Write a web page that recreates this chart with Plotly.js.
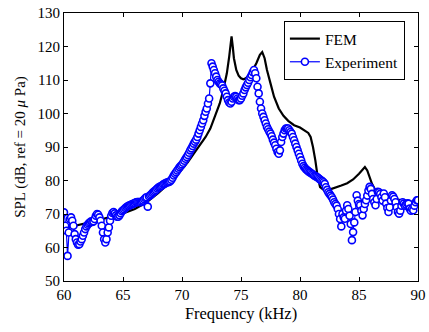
<!DOCTYPE html>
<html>
<head>
<meta charset="utf-8">
<script src="https://cdn.plot.ly/plotly-3.0.1.min.js"></script>
<style>html,body{margin:0;padding:0;background:#fff;}#chart{width:429px;height:332px;}</style>
</head>
<body>
<div id="chart"></div>
<script>
// FEM simulation (frequency in kHz, SPL in dB)
var femFreq = [60, 61, 62, 63, 64, 65, 66, 67, 68, 68.5, 69, 69.5, 70, 70.5, 71, 71.5, 72, 72.4, 72.8, 73.2, 73.5, 73.8, 74.0, 74.1, 74.2, 74.3, 74.4, 74.6, 74.8, 75.0, 75.2, 75.4, 75.7, 76.0, 76.3, 76.6, 76.8, 77.0, 77.2, 77.5, 77.8, 78.2, 78.6, 79.0, 79.5, 80.0, 80.4, 80.7, 80.9, 81.1, 81.3, 81.5, 81.7, 82.0, 82.5, 83.0, 83.5, 84.0, 84.5, 85.0, 85.3, 85.5, 85.7, 85.9, 86.1, 86.4, 87, 88, 89, 90];
var femSPL = [65.7, 66.5, 67.3, 68.2, 69.2, 70.2, 71.5, 73.5, 76.3, 77.8, 79.5, 81.2, 83.2, 85.5, 88.0, 90.5, 93.0, 95.5, 99.0, 103.0, 107.0, 112.0, 117.0, 120.0, 123.0, 120.0, 116.5, 113.0, 111.3, 110.5, 110.2, 110.5, 111.5, 113.0, 115.0, 117.5, 118.3, 116.5, 113.0, 109.0, 105.0, 101.5, 99.3, 97.8, 96.5, 95.8, 95.0, 94.2, 93.0, 90.0, 86.0, 81.0, 78.0, 77.2, 77.3, 77.8, 78.5, 79.2, 80.3, 82.0, 83.3, 84.0, 83.0, 81.0, 79.0, 77.0, 75.5, 74.5, 73.8, 73.5];

// Experiment: measured every 0.1 kHz from 60 kHz to 90 kHz
var expStart = 60;
var expStep = 0.1;
var expSPL = [
  70.5, 66.5, 65.0, 57.5, 64.5, 68.5, 69.0, 68.0, 66.5, 64.0,
  62.5, 61.5, 60.8, 61.0, 61.8, 62.5, 63.5, 64.5, 65.5, 66.3,
  66.8, 67.2, 67.5, 67.8, 67.6, 67.8, 68.5, 69.5, 70.0, 69.8,
  69.0, 68.0, 66.5, 64.5, 62.5, 61.5, 62.5, 64.5, 66.0, 68.0,
  69.5, 70.3, 70.6, 70.2, 69.6, 69.2, 69.2, 69.6, 70.2, 70.8,
  71.1, 71.4, 71.8, 72.1, 72.3, 72.5, 72.6, 72.8, 73.0, 73.1,
  73.3, 73.5, 73.6, 73.6, 73.6, 73.5, 73.7, 74.0, 74.4, 74.8,
  75.0, 72.2, 75.3, 75.6, 75.9, 76.3, 76.6, 76.9, 77.2, 77.6,
  77.9, 78.1, 78.3, 78.5, 78.8, 79.0, 79.2, 79.4, 79.5, 79.6,
  79.8, 80.2, 80.8, 81.5, 82.0, 82.5, 83.0, 83.5, 84.0, 84.4,
  84.8, 85.3, 85.9, 86.5, 87.0, 87.6, 88.3, 89.0, 89.6, 90.3,
  91.0, 91.6, 92.2, 93.0, 94.0, 95.0, 96.0, 97.0, 98.0, 99.3,
  100.5, 101.5, 103.0, 104.5, 109.0, 115.0, 114.0, 113.0, 112.0, 111.0,
  110.0, 109.5, 109.0, 108.7, 108.4, 107.5, 106.8, 106.0, 105.0, 104.0,
  103.3, 103.0, 103.5, 104.5, 105.0, 105.2, 105.0, 104.5, 104.0, 104.0,
  104.5, 105.3, 106.0, 107.0, 107.8, 108.5, 109.2, 110.0, 110.8, 111.5,
  112.3, 113.0, 112.0, 110.5, 108.0, 106.0, 103.5, 101.5, 100.0, 99.0,
  98.0, 97.0, 96.0, 95.3, 94.6, 94.0, 93.2, 92.2, 91.3, 90.5,
  89.5, 88.5, 88.0, 89.0, 91.5, 93.0, 94.0, 95.0, 95.5, 95.5,
  95.5, 95.0, 94.5, 94.0, 93.0, 92.0, 91.0, 90.0, 89.0, 88.0,
  87.0, 86.0, 85.0, 84.3, 83.8, 83.4, 83.1, 82.8, 82.5, 82.3,
  82.0, 81.8, 81.5, 81.3, 81.1, 80.9, 80.6, 80.3, 80.0, 79.8,
  79.5, 79.0, 78.0, 77.2, 76.5, 76.0, 75.5, 75.0, 74.3, 73.5,
  73.0, 72.5, 71.5, 70.0, 68.5, 66.3, 70.0, 69.0, 68.6, 71.0,
  72.6, 71.5, 69.5, 67.0, 62.2, 64.6, 67.5, 70.6, 75.6, 74.0,
  73.0, 72.6, 71.0, 69.6, 71.5, 73.0, 74.1, 75.5, 77.0, 78.1,
  77.5, 76.0, 74.5, 73.5, 72.6, 74.5, 76.6, 76.5, 76.0, 75.0,
  74.0, 76.1, 75.0, 73.1, 71.8, 70.6, 72.0, 74.0, 75.6, 75.2,
  74.5, 73.5, 72.0, 70.6, 70.1, 71.0, 72.5, 73.5, 73.1, 72.5,
  72.8, 73.2, 73.1, 71.6, 71.0, 71.5, 71.1, 72.5, 73.5, 74.1,
  74.1
];

var xTicks = [60, 65, 70, 75, 80, 85, 90];
var yTicks = [50, 60, 70, 80, 90, 100, 110, 120, 130];

var fontFam = '"Liberation Serif", "Times New Roman", serif';

var traces = [
  {
    x: femFreq, y: femSPL, type: 'scatter', mode: 'lines', name: 'FEM',
    line: {color: '#000000', width: 2.2}
  },
  {
    x0: expStart, dx: expStep, y: expSPL, type: 'scatter', mode: 'lines+markers', name: 'Experiment',
    line: {color: '#0000ff', width: 1.2},
    marker: {symbol: 'circle', size: 7, color: '#ffffff', line: {color: '#0000ff', width: 1.6}}
  }
];

var axisCommon = {
  showgrid: false, zeroline: false, showline: true, linecolor: '#000', linewidth: 1,
  mirror: 'ticks', ticks: 'inside', ticklen: 4, tickcolor: '#000', tickwidth: 1,
  tickfont: {family: fontFam, size: 15, color: '#000'}
};

var layout = {
  width: 429, height: 332,
  margin: {l: 64, r: 11, t: 13, b: 51},
  paper_bgcolor: '#fff', plot_bgcolor: '#fff',
  showlegend: true,
  legend: {
    x: 0.963, y: 0.97, xanchor: 'right', yanchor: 'top',
    bgcolor: '#fff', bordercolor: '#000', borderwidth: 1,
    font: {family: fontFam, size: 15.5, color: '#000'},
    tracegroupgap: 0, itemwidth: 30
  },
  xaxis: Object.assign({}, axisCommon, {
    range: [60, 90], tickvals: xTicks, ticktext: xTicks.map(String),
    title: {text: 'Frequency (kHz)', font: {family: fontFam, size: 16.5, color: '#000'}, standoff: 5}
  }),
  yaxis: Object.assign({}, axisCommon, {
    range: [50, 130], tickvals: yTicks, ticktext: yTicks.map(String),
    title: {text: 'SPL (dB, ref = 20 <i>μ</i> Pa)', font: {family: fontFam, size: 15, color: '#000'}, standoff: 8}
  })
};

Plotly.newPlot('chart', traces, layout, {staticPlot: true, displayModeBar: false});
</script>
</body>
</html>
